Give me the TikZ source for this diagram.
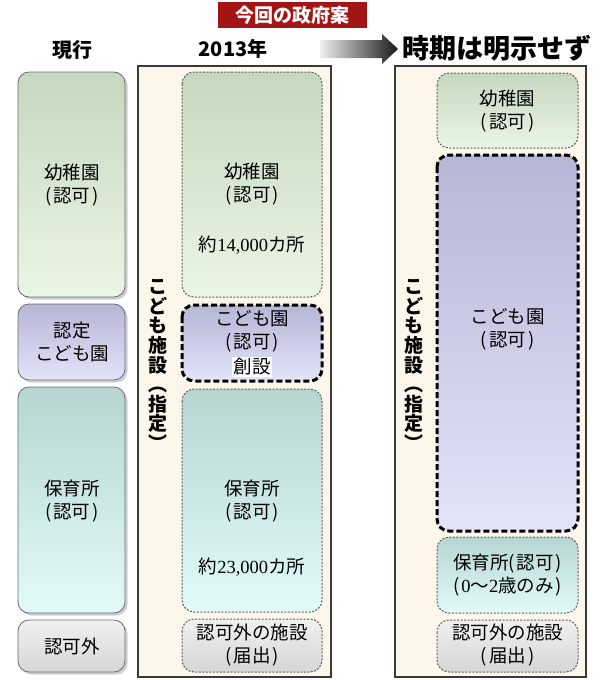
\documentclass[tikz,border=0pt]{standalone}
\usepackage{fontspec}
\setmainfont{Noto Sans CJK JP}
\newfontfamily\numfont{Liberation Serif}
\usetikzlibrary{shadows}

\definecolor{seifuRed}{HTML}{A31515}
\definecolor{frameGray}{HTML}{3A3A3A}
\definecolor{cream}{HTML}{FDF6EA}
\definecolor{youTop}{HTML}{C6D7BF}
\definecolor{youBot}{HTML}{E9F6E5}
\definecolor{kodTop}{HTML}{B6B6D6}
\definecolor{kodBot}{HTML}{E3E3F9}
\definecolor{hoiTop}{HTML}{B6D5D1}
\definecolor{hoiBot}{HTML}{E1FBFB}
\definecolor{gaiTop}{HTML}{F0F0F0}
\definecolor{gaiBot}{HTML}{D6D6D6}
\newcommand{\kakko}[1]{(\kern2pt#1\kern2pt)}

\tikzset{
  waku/.style={draw=frameGray, line width=2.4pt, fill=cream},
  genko/.style={draw=gray!85!black, line width=0.8pt, rounded corners=11pt,
    drop shadow={shadow xshift=2.5pt, shadow yshift=-2.5pt, fill=gray!75}},
  usuwaku/.style={draw=gray!75!black, line width=1pt, dash pattern=on 2pt off 1.5pt, rounded corners=12pt},
  sousetsu/.style={draw=black, line width=3pt, dash pattern=on 6pt off 3pt, rounded corners=12pt},
  youchien/.style={top color=youTop, bottom color=youBot},
  kodomo/.style={top color=kodTop, bottom color=kodBot},
  hoiku/.style={top color=hoiTop, bottom color=hoiBot},
  muninka/.style={top color=gaiTop, bottom color=gaiBot},
  lbl/.style={font=\fontsize{18.5}{23}\selectfont, align=center, inner sep=0pt},
  tate/.style={font=\bfseries\fontsize{19}{19.6}\selectfont, align=center, inner sep=0pt},
}

\begin{document}
\begin{tikzpicture}[x=1pt,y=-1pt]
\useasboundingbox (0,0) rectangle (600,680);

% headings
\fill[seifuRed] (218,2) rectangle (367,28);
\node[font=\bfseries\fontsize{19}{19}\selectfont, text=white, inner sep=0pt] (seifuan) at (292.5,15) {今回の政府案};
\node[font=\bfseries\fontsize{20}{20}\selectfont, inner sep=0pt] (genkoHd) at (72,50) {現行};
\node[font=\bfseries\fontsize{20}{20}\selectfont, inner sep=0pt] (nenHd) at (233,49) {2013年};
\shade[left color=gray!12, right color=black!90] (320,40) -- (382,40) -- (382,34) -- (398,49) -- (382,64) -- (382,58) -- (320,58) -- cycle;
\node[font=\bfseries\fontsize{27}{27}\selectfont, inner sep=0pt] (jikiHd) at (497,48) {時期は明示せず};

% current system
\path[genko, youchien] (18,72) rectangle (125,297);
\path[genko, kodomo] (18,304) rectangle (125,380);
\path[genko, hoiku] (18,387) rectangle (125,613);
\path[genko, muninka] (18,620) rectangle (125,672);
\node[lbl] (gYou) at (72,185) {幼稚園\\\kakko{認可}};
\node[lbl] (gNin) at (72,342) {認定\\こども園};
\node[lbl] (gHoi) at (72,501) {保育所\\\kakko{認可}};
\node[lbl] (gGai) at (72,646) {認可外};

% 2013
\draw[waku] (138,66) rectangle (331,677);
\path[usuwaku, youchien] (182,72) rectangle (322,297);
\path[sousetsu, kodomo] (182,305) rectangle (322,381);
\path[usuwaku, hoiku] (182,389) rectangle (322,612);
\path[usuwaku, muninka] (182,619) rectangle (322,672);
\node[lbl] (mYou) at (252,184) {幼稚園\\\kakko{認可}};
\node[lbl] (mYouNum) at (252,245) {約{\numfont 14,000}カ所};
\node[lbl] (mKod) at (252,331) {こども園\\\kakko{認可}};
\node[lbl, fill=white, inner sep=1.5pt] (mSou) at (252,367) {創設};
\node[lbl] (mHoi) at (252,501) {保育所\\\kakko{認可}};
\node[lbl] (mHoiNum) at (252,567) {約{\numfont 23,000}カ所};
\node[lbl] (mGai) at (252,645) {認可外の施設\\\kakko{届出}};
\node[tate] (mTate) at (158,365) {こ\\ど\\も\\施\\設\\︵\\指\\定\\︶};

% later
\draw[waku] (395,66) rectangle (586,677);
\path[usuwaku, youchien] (437,73) rectangle (578,148);
\path[sousetsu, kodomo] (437,155) rectangle (578,531);
\path[usuwaku, hoiku] (437,537) rectangle (578,613);
\path[usuwaku, muninka] (437,620) rectangle (578,672);
\node[lbl] (rYou) at (507.5,111) {幼稚園\\\kakko{認可}};
\node[lbl] (rKod) at (507.5,329) {こども園\\\kakko{認可}};
\node[lbl] (rHoi) at (507.5,575) {保育所\kakko{認可}\\\kakko{{\numfont 0}～{\numfont 2}歳のみ}};
\node[lbl] (rGai) at (507.5,645) {認可外の施設\\\kakko{届出}};
\node[tate] (rTate) at (414,365) {こ\\ど\\も\\施\\設\\︵\\指\\定\\︶};
\end{tikzpicture}
\end{document}
